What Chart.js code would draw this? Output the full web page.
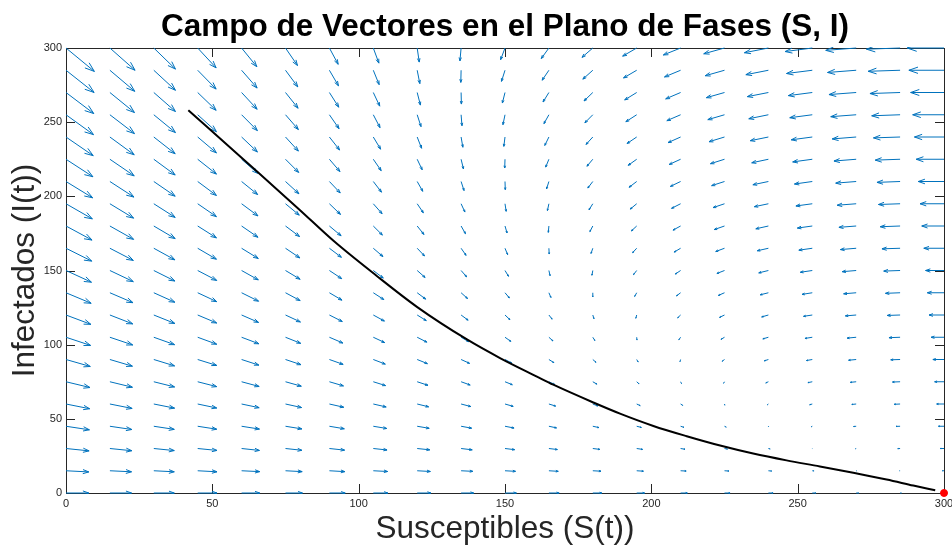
<!DOCTYPE html>
<html><head><meta charset="utf-8">
<script src="https://cdn.jsdelivr.net/npm/chart.js@4.4.1/dist/chart.umd.min.js"></script>
<style>html,body{margin:0;padding:0;background:#fff;}canvas{display:block;}</style>
</head><body>
<canvas id="c" width="952" height="549"></canvas>
<script>
// Grid of the vector field (S and I values of arrow tails)
const sGrid = [0,15,30,45,60,75,90,105,120,135,150,165,180,195,210,225,240,255,270,285,300];
const iGrid = [0,15,30,45,60,75,90,105,120,135,150,165,180,195,210,225,240,255,270,285,300];
const xTicks = [0,50,100,150,200,250,300];
const yTicks = [0,50,100,150,200,250,300];

// Arrow components (data units), one row per I value (bottom to top)
const dS = [
[7.8,7.4,7.0,6.6,6.2,5.8,5.4,5.0,4.7,4.3,3.9,3.5,3.1,2.7,2.3,1.9,1.6,1.2,0.8,0.4,0],
[7.8,7.4,7.0,6.6,6.2,5.7,5.3,4.9,4.5,4.0,3.6,3.2,2.8,2.3,1.9,1.5,1.1,0.6,0.2,-0.2,-0.6],
[7.9,7.5,7.0,6.6,6.1,5.6,5.2,4.7,4.3,3.8,3.3,2.9,2.4,2.0,1.5,1.0,0.6,0.1,-0.3,-0.8,-1.3],
[8.0,7.5,7.0,6.5,6.1,5.6,5.1,4.6,4.1,3.6,3.1,2.6,2.1,1.6,1.1,0.6,0.1,-0.4,-0.9,-1.4,-1.9],
[8.1,7.6,7.1,6.5,6.0,5.5,4.9,4.4,3.9,3.3,2.8,2.3,1.7,1.2,0.7,0.1,-0.4,-0.9,-1.5,-2.0,-2.5],
[8.2,7.7,7.1,6.5,6.0,5.4,4.8,4.2,3.7,3.1,2.5,2.0,1.4,0.8,0.3,-0.3,-0.9,-1.5,-2.0,-2.6,-3.2],
[8.3,7.7,7.1,6.5,5.9,5.3,4.7,4.1,3.5,2.9,2.3,1.7,1.1,0.5,-0.2,-0.8,-1.4,-2.0,-2.6,-3.2,-3.8],
[8.4,7.8,7.1,6.5,5.9,5.2,4.6,3.9,3.3,2.6,2.0,1.4,0.7,0.1,-0.6,-1.2,-1.9,-2.5,-3.1,-3.8,-4.4],
[8.5,7.8,7.2,6.5,5.8,5.1,4.4,3.8,3.1,2.4,1.7,1.1,0.4,-0.3,-1.0,-1.7,-2.3,-3.0,-3.7,-4.4,-5.1],
[8.6,7.9,7.2,6.5,5.8,5.0,4.3,3.6,2.9,2.2,1.5,0.7,0.0,-0.7,-1.4,-2.1,-2.8,-3.5,-4.3,-5.0,-5.7],
[8.7,8.0,7.2,6.5,5.7,5.0,4.2,3.4,2.7,1.9,1.2,0.4,-0.3,-1.1,-1.8,-2.6,-3.3,-4.1,-4.8,-5.6,-6.3],
[8.8,8.0,7.2,6.4,5.7,4.9,4.1,3.3,2.5,1.7,0.9,0.1,-0.6,-1.4,-2.2,-3.0,-3.8,-4.6,-5.4,-6.2,-6.9],
[8.9,8.1,7.3,6.4,5.6,4.8,4.0,3.1,2.3,1.5,0.7,-0.2,-1.0,-1.8,-2.6,-3.5,-4.3,-5.1,-5.9,-6.8,-7.6],
[9.0,8.1,7.3,6.4,5.6,4.7,3.8,3.0,2.1,1.3,0.4,-0.5,-1.3,-2.2,-3.1,-3.9,-4.8,-5.6,-6.5,-7.4,-8.2],
[9.1,8.2,7.3,6.4,5.5,4.6,3.7,2.8,1.9,1.0,0.1,-0.8,-1.7,-2.6,-3.5,-4.4,-5.3,-6.1,-7.0,-7.9,-8.8],
[9.2,8.3,7.3,6.4,5.5,4.5,3.6,2.7,1.7,0.8,-0.1,-1.1,-2.0,-2.9,-3.9,-4.8,-5.7,-6.7,-7.6,-8.5,-9.5],
[9.3,8.3,7.3,6.4,5.4,4.4,3.5,2.5,1.5,0.6,-0.4,-1.4,-2.3,-3.3,-4.3,-5.3,-6.2,-7.2,-8.2,-9.1,-10.1],
[9.4,8.4,7.4,6.4,5.4,4.4,3.3,2.3,1.3,0.3,-0.7,-1.7,-2.7,-3.7,-4.7,-5.7,-6.7,-7.7,-8.7,-9.7,-10.7],
[9.5,8.4,7.4,6.3,5.3,4.3,3.2,2.2,1.1,0.1,-0.9,-2.0,-3.0,-4.1,-5.1,-6.2,-7.2,-8.2,-9.3,-10.3,-11.4],
[9.6,8.5,7.4,6.3,5.3,4.2,3.1,2.0,0.9,-0.1,-1.2,-2.3,-3.4,-4.5,-5.5,-6.6,-7.7,-8.8,-9.8,-10.9,-12.0],
[9.7,8.6,7.4,6.3,5.2,4.1,3.0,1.9,0.7,-0.4,-1.5,-2.6,-3.7,-4.8,-5.9,-7.1,-8.2,-9.3,-10.4,-11.5,-12.6]
];
const dI = [
[0,0,0,0,0,0,0,0,0,0,0,0,0,0,0,0,0,0,0,0,0],
[-0.8,-0.7,-0.7,-0.7,-0.6,-0.6,-0.6,-0.5,-0.5,-0.4,-0.4,-0.4,-0.3,-0.3,-0.2,-0.2,-0.2,-0.1,-0.1,0,0],
[-1.6,-1.5,-1.4,-1.3,-1.3,-1.2,-1.1,-1.0,-0.9,-0.9,-0.8,-0.7,-0.6,-0.6,-0.5,-0.4,-0.3,-0.2,-0.2,-0.1,0],
[-2.4,-2.2,-2.1,-2.0,-1.9,-1.8,-1.7,-1.5,-1.4,-1.3,-1.2,-1.1,-0.9,-0.8,-0.7,-0.6,-0.5,-0.4,-0.2,-0.1,0],
[-3.2,-3.0,-2.8,-2.7,-2.5,-2.4,-2.2,-2.0,-1.9,-1.7,-1.6,-1.4,-1.3,-1.1,-0.9,-0.8,-0.6,-0.5,-0.3,-0.2,0],
[-3.9,-3.7,-3.5,-3.3,-3.2,-3.0,-2.8,-2.6,-2.4,-2.2,-2.0,-1.8,-1.6,-1.4,-1.2,-1.0,-0.8,-0.6,-0.4,-0.2,0],
[-4.7,-4.5,-4.3,-4.0,-3.8,-3.5,-3.3,-3.1,-2.8,-2.6,-2.4,-2.1,-1.9,-1.7,-1.4,-1.2,-0.9,-0.7,-0.5,-0.2,0],
[-5.5,-5.2,-5.0,-4.7,-4.4,-4.1,-3.9,-3.6,-3.3,-3.0,-2.8,-2.5,-2.2,-1.9,-1.7,-1.4,-1.1,-0.8,-0.6,-0.3,0],
[-6.3,-6.0,-5.7,-5.4,-5.0,-4.7,-4.4,-4.1,-3.8,-3.5,-3.2,-2.8,-2.5,-2.2,-1.9,-1.6,-1.3,-0.9,-0.6,-0.3,0],
[-7.1,-6.7,-6.4,-6.0,-5.7,-5.3,-5.0,-4.6,-4.3,-3.9,-3.5,-3.2,-2.8,-2.5,-2.1,-1.8,-1.4,-1.1,-0.7,-0.4,0],
[-7.9,-7.5,-7.1,-6.7,-6.3,-5.9,-5.5,-5.1,-4.7,-4.3,-3.9,-3.5,-3.2,-2.8,-2.4,-2.0,-1.6,-1.2,-0.8,-0.4,0],
[-8.7,-8.2,-7.8,-7.4,-6.9,-6.5,-6.1,-5.6,-5.2,-4.8,-4.3,-3.9,-3.5,-3.0,-2.6,-2.2,-1.7,-1.3,-0.9,-0.4,0],
[-9.5,-9.0,-8.5,-8.0,-7.6,-7.1,-6.6,-6.1,-5.7,-5.2,-4.7,-4.3,-3.8,-3.3,-2.8,-2.4,-1.9,-1.4,-0.9,-0.5,0],
[-10.2,-9.7,-9.2,-8.7,-8.2,-7.7,-7.2,-6.7,-6.1,-5.6,-5.1,-4.6,-4.1,-3.6,-3.1,-2.6,-2.0,-1.5,-1.0,-0.5,0],
[-11.0,-10.5,-9.9,-9.4,-8.8,-8.3,-7.7,-7.2,-6.6,-6.1,-5.5,-5.0,-4.4,-3.9,-3.3,-2.8,-2.2,-1.7,-1.1,-0.6,0],
[-11.8,-11.2,-10.6,-10.0,-9.5,-8.9,-8.3,-7.7,-7.1,-6.5,-5.9,-5.3,-4.7,-4.1,-3.5,-3.0,-2.4,-1.8,-1.2,-0.6,0],
[-12.6,-12.0,-11.3,-10.7,-10.1,-9.5,-8.8,-8.2,-7.6,-6.9,-6.3,-5.7,-5.0,-4.4,-3.8,-3.2,-2.5,-1.9,-1.3,-0.6,0],
[-13.4,-12.7,-12.0,-11.4,-10.7,-10.0,-9.4,-8.7,-8.0,-7.4,-6.7,-6.0,-5.4,-4.7,-4.0,-3.3,-2.7,-2.0,-1.3,-0.7,0],
[-14.2,-13.5,-12.8,-12.0,-11.3,-10.6,-9.9,-9.2,-8.5,-7.8,-7.1,-6.4,-5.7,-5.0,-4.3,-3.5,-2.8,-2.1,-1.4,-0.7,0],
[-15.0,-14.2,-13.5,-12.7,-12.0,-11.2,-10.5,-9.7,-9.0,-8.2,-7.5,-6.7,-6.0,-5.2,-4.5,-3.7,-3.0,-2.2,-1.5,-0.7,0],
[-15.8,-15.0,-14.2,-13.4,-12.6,-11.8,-11.0,-10.2,-9.5,-8.7,-7.9,-7.1,-6.3,-5.5,-4.7,-3.9,-3.2,-2.4,-1.6,-0.8,0]
];

// Trajectory
const trajS = [41.8,60,79.5,91.4,106.2,119.9,137,148.3,160.9,166.5,180.2,189.3,200.7,212.1,223.5,234.8,246.2,257.6,269,280.4,289.5,297];
const trajI = [258.1,226,191.5,170,146.3,125.5,103.5,91,78.5,73,61,53.5,45.2,38.3,32,26.6,22,17.9,13.6,9.1,5,1.8];

// Equilibrium point
const eqS = [300];
const eqI = [0];

const AXIS_COLOR = '#262626';
const FONT = "'Liberation Sans', Arial, Helvetica, sans-serif";
Chart.defaults.font.family = FONT;

const framePlugin = {
  id: 'frame',
  beforeDatasetsDraw(chart) {
    const {ctx, chartArea: a, scales: {x, y}} = chart;
    ctx.save();
    ctx.strokeStyle = AXIS_COLOR;
    ctx.lineWidth = 1;
    ctx.beginPath();
    ctx.rect(Math.round(a.left) + 0.5, Math.round(a.top) + 0.5, Math.round(a.right - a.left), Math.round(a.bottom - a.top));
    ctx.stroke();
    const tl = 9;
    ctx.beginPath();
    xTicks.forEach(v => {
      const px = Math.round(x.getPixelForValue(v)) + 0.5;
      ctx.moveTo(px, a.bottom); ctx.lineTo(px, a.bottom - tl);
      ctx.moveTo(px, a.top); ctx.lineTo(px, a.top + tl);
    });
    yTicks.forEach(v => {
      const py = Math.round(y.getPixelForValue(v)) + 0.5;
      ctx.moveTo(a.left, py); ctx.lineTo(a.left + tl, py);
      ctx.moveTo(a.right, py); ctx.lineTo(a.right - tl, py);
    });
    ctx.stroke();
    ctx.restore();
  }
};

const quiverPlugin = {
  id: 'quiver',
  beforeDatasetsDraw(chart) {
    const {ctx, chartArea: a, scales: {x, y}} = chart;
    ctx.save();
    ctx.beginPath();
    ctx.rect(a.left - 1, a.top - 1, a.right - a.left + 2, a.bottom - a.top + 2);
    ctx.clip();
    ctx.strokeStyle = '#0072BD';
    ctx.lineWidth = 1;
    ctx.beginPath();
    for (let r = 0; r < iGrid.length; r++) {
      for (let c = 0; c < sGrid.length; c++) {
        const x0 = x.getPixelForValue(sGrid[c]);
        const y0 = y.getPixelForValue(iGrid[r]);
        const x1 = x.getPixelForValue(sGrid[c] + dS[r][c]);
        const y1 = y.getPixelForValue(iGrid[r] + dI[r][c]);
        const vx = x1 - x0, vy = y1 - y0;
        const L = Math.hypot(vx, vy);
        if (L < 0.3) continue;
        ctx.moveTo(x0, y0); ctx.lineTo(x1, y1);
        const ux = vx / L, uy = vy / L;
        const h = 0.26 * L, w = 0.09 * L;
        const bx = x1 - ux * h, by = y1 - uy * h;
        ctx.moveTo(bx - uy * w, by + ux * w);
        ctx.lineTo(x1, y1);
        ctx.lineTo(bx + uy * w, by - ux * w);
      }
    }
    ctx.stroke();
    ctx.restore();
  }
};

const titlePlugin = {
  id: 'mtitle',
  afterDraw(chart) {
    const {ctx, chartArea: a} = chart;
    ctx.save();
    ctx.fillStyle = '#000';
    ctx.font = 'bold 31.5px ' + FONT;
    ctx.textAlign = 'center';
    ctx.textBaseline = 'alphabetic';
    ctx.fillText('Campo de Vectores en el Plano de Fases (S, I)', (a.left + a.right) / 2, 36);
    ctx.restore();
  }
};

new Chart(document.getElementById('c'), {
  type: 'scatter',
  data: {
    datasets: [
      {
        label: 'Trayectoria',
        type: 'line',
        data: trajS.map((s, i) => ({x: s, y: trajI[i]})),
        borderColor: '#000000',
        borderWidth: 2,
        pointRadius: 0,
        fill: false,
        cubicInterpolationMode: 'monotone'
      },
      {
        label: 'Equilibrio',
        data: eqS.map((s, i) => ({x: s, y: eqI[i]})),
        pointRadius: 3.5,
        backgroundColor: '#ff0000',
        borderColor: '#ff0000',
        clip: false
      }
    ]
  },
  options: {
    responsive: false,
    animation: false,
    devicePixelRatio: 1,
    layout: {padding: {top: 48, right: 8, left: 0, bottom: 0}},
    plugins: {legend: {display: false}, tooltip: {enabled: false}, title: {display: false}},
    scales: {
      x: {
        type: 'linear', min: 0, max: 300,
        afterFit(s) { s.height = 56; s.paddingLeft = 0; s.paddingRight = 0; },
        afterBuildTicks(s) { s.ticks = xTicks.map(v => ({value: v})); },
        grid: {display: false, drawTicks: false},
        border: {display: false},
        ticks: {padding: 4, color: AXIS_COLOR, font: {size: 11}, maxRotation: 0, autoSkip: false},
        title: {display: true, text: 'Susceptibles (S(t))', color: AXIS_COLOR, font: {size: 31.5}, padding: {top: 0, bottom: 1}}
      },
      y: {
        type: 'linear', min: 0, max: 300,
        afterFit(s) { s.width = 66; s.paddingTop = 0; s.paddingBottom = 0; },
        afterBuildTicks(s) { s.ticks = yTicks.map(v => ({value: v})); },
        grid: {display: false, drawTicks: false},
        border: {display: false},
        ticks: {padding: 4, color: AXIS_COLOR, font: {size: 11}, autoSkip: false},
        title: {display: true, text: 'Infectados (I(t))', color: AXIS_COLOR, font: {size: 31.5}, padding: {top: 6, bottom: 0}}
      }
    }
  },
  plugins: [framePlugin, quiverPlugin, titlePlugin]
});
</script>
</body></html>
